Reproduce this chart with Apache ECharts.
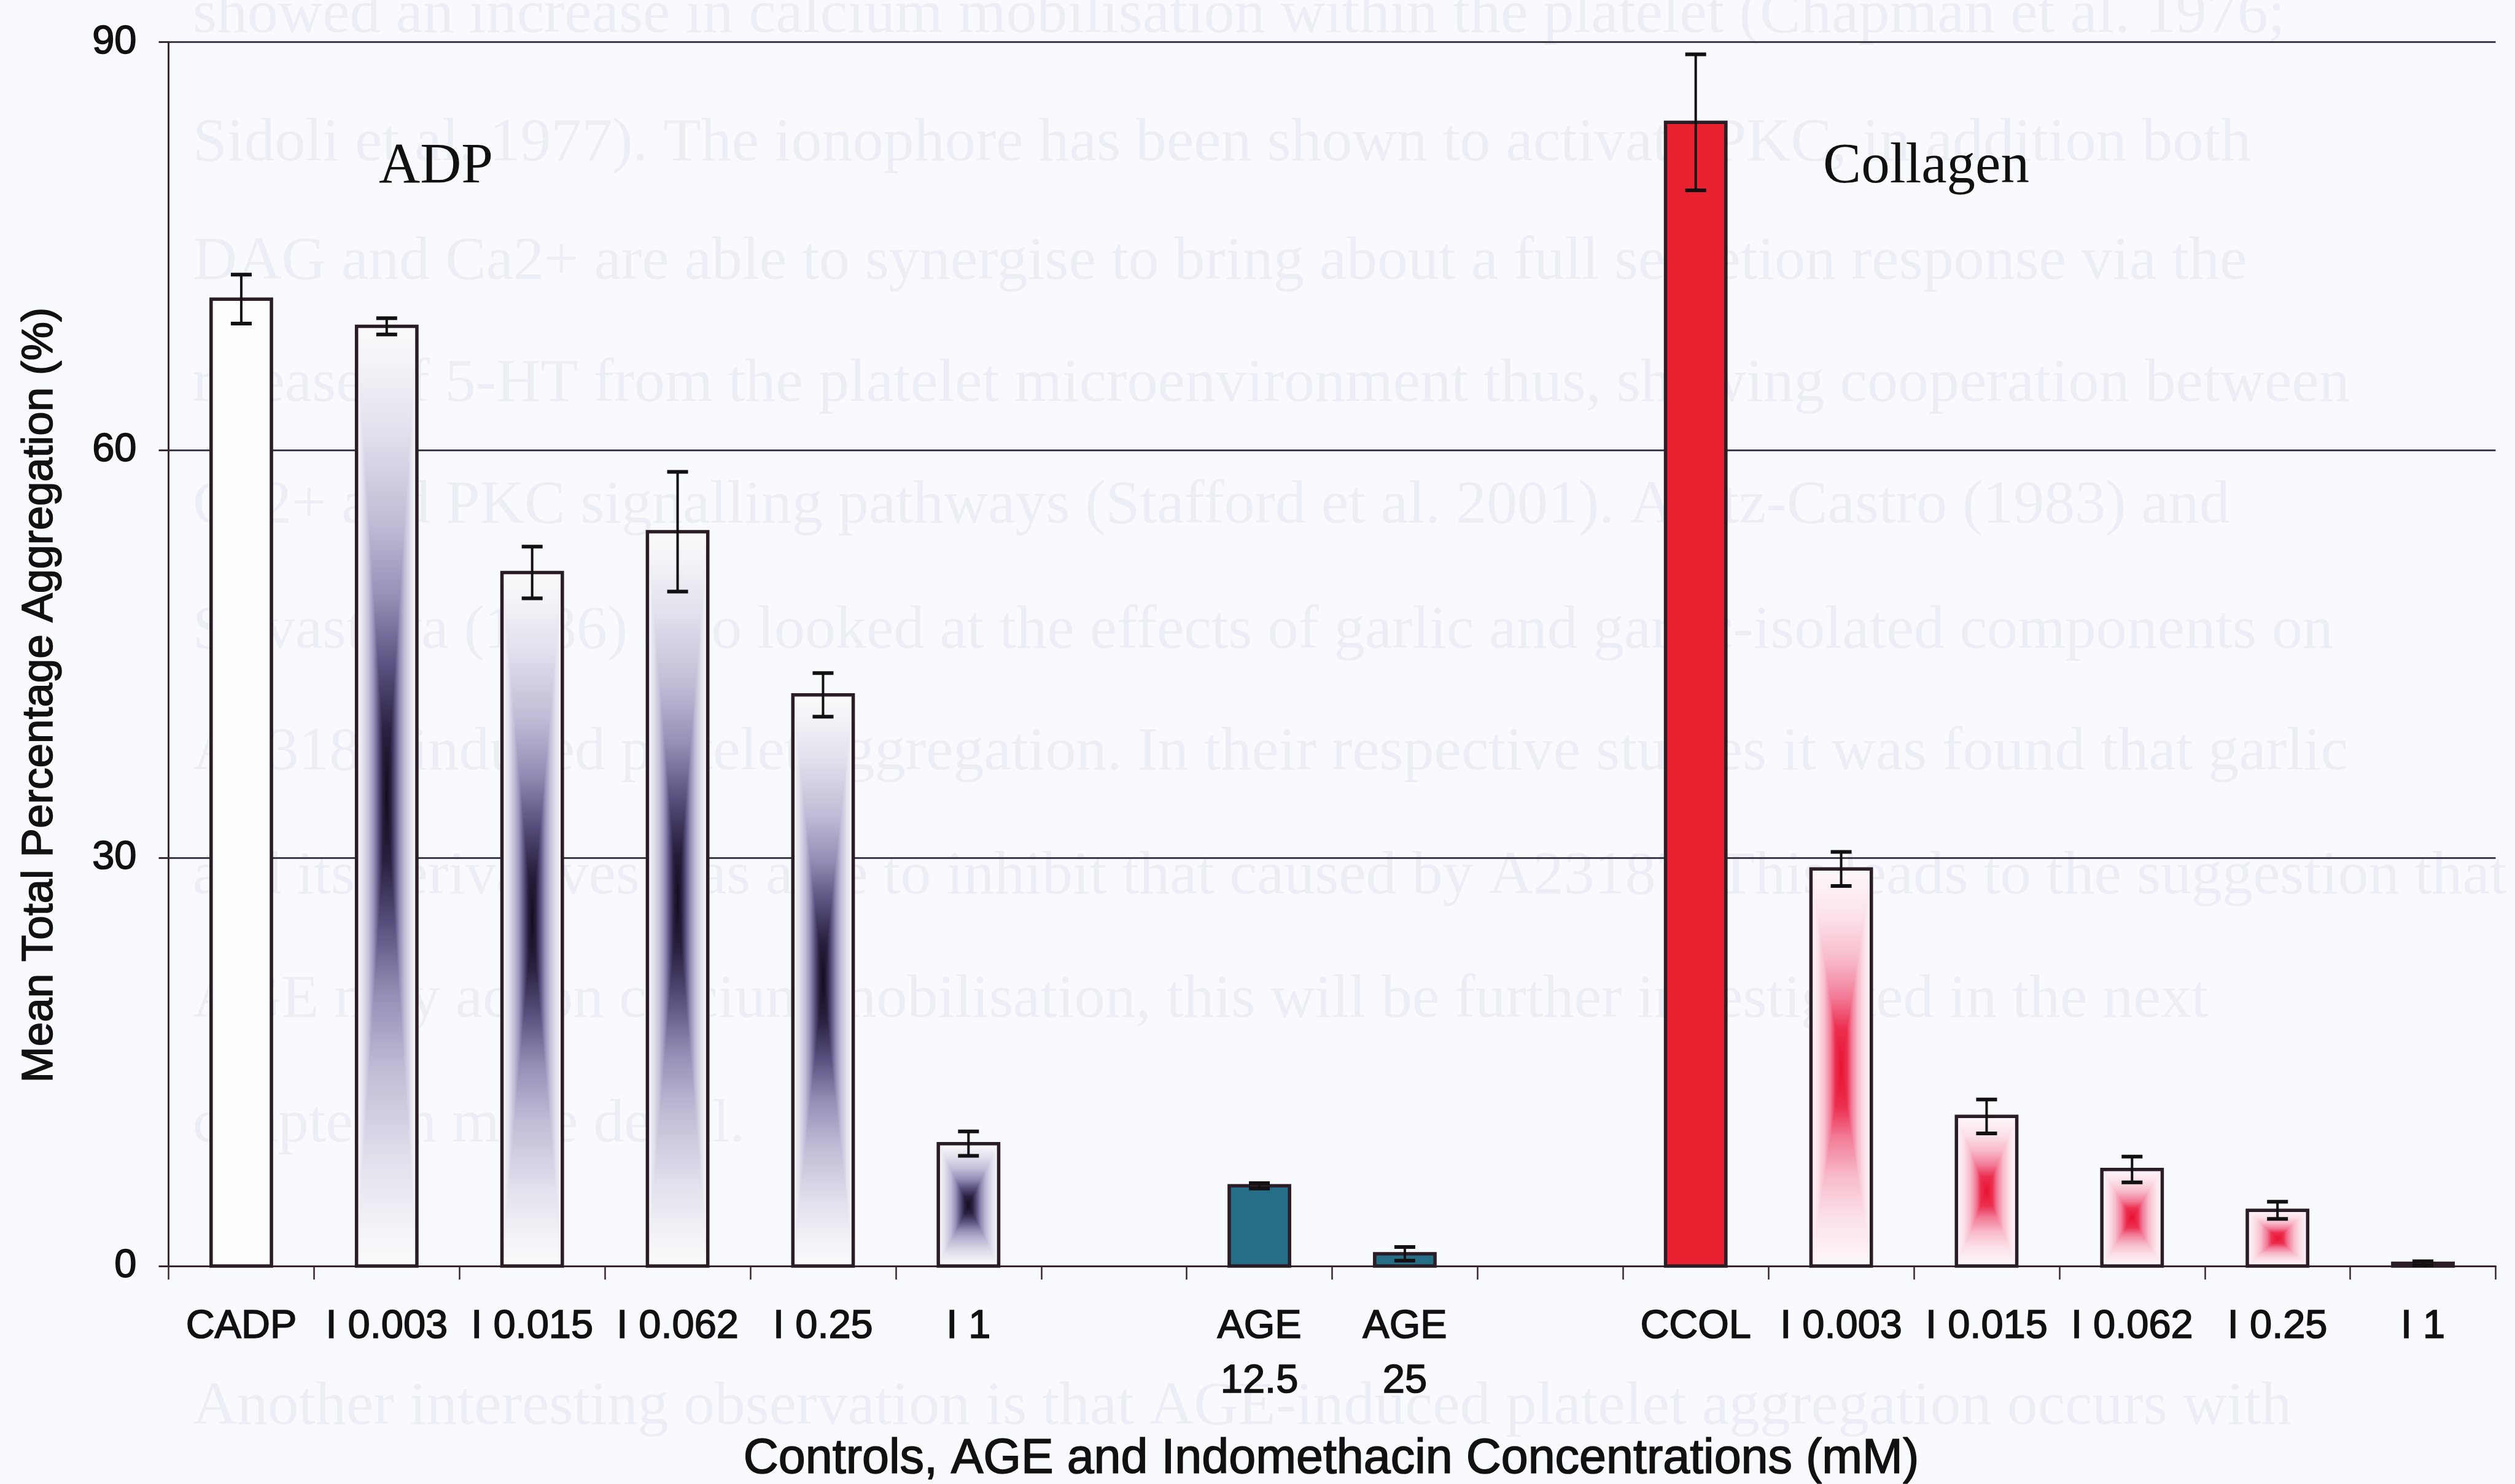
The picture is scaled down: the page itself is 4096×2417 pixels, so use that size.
<!DOCTYPE html>
<html>
<head>
<meta charset="utf-8">
<script src="https://cdn.jsdelivr.net/npm/echarts@6/dist/echarts.min.js"></script>
<style>
  html, body { margin: 0; padding: 0; background: #f9fafd; }
  #chart { width: 4096px; height: 2417px; }
</style>
</head>
<body>
<div id="chart"></div>
<script>
// ---------------- data ----------------
const categories = ['CADP', 'I 0.003', 'I 0.015', 'I 0.062', 'I 0.25', 'I 1', '',
  'AGE\n12.5', 'AGE\n25', '',
  'CCOL', 'I 0.003', 'I 0.015', 'I 0.062', 'I 0.25', 'I 1'];
const meanValues  = [71.1, 69.1, 51.0, 54.0, 42.0, 9.0, null, 5.9, 0.9, null, 84.1, 29.2, 11.0, 7.1, 4.1, 0.2];
const errorValues = [1.8, 0.6, 1.9, 4.4, 1.6, 0.9, null, 0.2, 0.5, null, 5.0, 1.25, 1.25, 0.95, 0.63, 0.15];
const fillKinds   = ['plain', 'adpGrad', 'adpGrad', 'adpGrad', 'adpGrad', 'adpGrad', '',
  'age', 'age', '',
  'col', 'colGrad', 'colGrad', 'colGrad', 'colGrad', 'colGrad'];
const yTickValues = [0, 30, 60, 90];
const groupNames = ['ADP', 'Collagen'];
const axisTitleX = 'Controls, AGE and Indomethacin Concentrations (mM)';
const axisTitleY = 'Mean Total Percentage Aggregation (%)';
// faint show-through text of the scanned page
const bleedLines = [
  'showed an increase in calcium mobilisation within the platelet (Chapman et al. 1976;',
  'Sidoli et al. 1977). The ionophore has been shown to activate PKC, in addition both',
  'DAG and Ca2+ are able to synergise to bring about a full secretion response via the',
  'release of 5-HT from the platelet microenvironment thus, showing cooperation between',
  'Ca2+ and PKC signalling pathways (Stafford et al. 2001). Apitz-Castro (1983) and',
  'Srivastava (1986) also looked at the effects of garlic and garlic-isolated components on',
  'A23187-induced platelet aggregation. In their respective studies it was found that garlic',
  'and its derivatives was able to inhibit that caused by A23187. This leads to the suggestion that',
  'AGE may act on calcium mobilisation, this will be further investigated in the next',
  'chapter in more detail.',
  'Another interesting observation is that AGE-induced platelet aggregation occurs with'
];

// ---------------- styles ----------------
const gradStops = {
  adpGrad: [[0, '#140a1c'], [0.14, '#2a2040'], [0.28, '#5a5280'], [0.42, '#948eb6'],
            [0.58, '#c0bcd6'], [0.78, '#e2e1ed'], [0.92, '#f3f3f8'], [1, '#fbfbfd']],
  colGrad: [[0, '#e8102e'], [0.2, '#ec2f50'], [0.35, '#f27a96'], [0.55, '#f8bccb'],
            [0.75, '#fbe0e8'], [1, '#fdf9fb']]
};
const solidFill = { plain: '#fdfdfe', age: '#266e87', col: '#ea2130' };
const borderColor = '#2a1d25';
const textColor = '#111111';
const sansFont = '"Liberation Sans", Arial, sans-serif';
const serifFont = '"Liberation Serif", "Times New Roman", serif';

function lg(x, y, x2, y2, stops) {
  return new echarts.graphic.LinearGradient(x, y, x2, y2,
    stops.map(s => ({ offset: s[0], color: s[1] })));
}

function renderBar(params, api) {
  const idx = api.value(0);
  const v = api.value(1);
  const e = api.value(2);
  const kind = fillKinds[idx];
  const top = api.coord([idx, v]);
  const base = api.coord([idx, 0]);
  const bw = api.size([1, 0])[0] * 0.415;
  const x0 = top[0] - bw / 2;
  const y0 = top[1];
  const h = base[1] - top[1];
  const cx = top[0];
  const cy = y0 + h / 2;
  const children = [];
  if (gradStops[kind]) {
    const st = gradStops[kind];
    const tri = (pts, g) => ({
      type: 'polygon', shape: { points: pts },
      style: { fill: g, stroke: g, lineWidth: 1 }
    });
    children.push(tri([[x0, y0], [x0 + bw, y0], [cx, cy]], lg(0, 1, 0, 0, st)));
    children.push(tri([[x0, y0 + h], [x0 + bw, y0 + h], [cx, cy]], lg(0, 0, 0, 1, st)));
    children.push(tri([[x0, y0], [x0, y0 + h], [cx, cy]], lg(1, 0, 0, 0, st)));
    children.push(tri([[x0 + bw, y0], [x0 + bw, y0 + h], [cx, cy]], lg(0, 0, 1, 0, st)));
  } else {
    children.push({ type: 'rect', shape: { x: x0, y: y0, width: bw, height: h },
      style: { fill: solidFill[kind] } });
  }
  children.push({ type: 'rect', shape: { x: x0, y: y0, width: bw, height: h },
    style: { fill: 'none', stroke: borderColor, lineWidth: 5.5 } });
  // error bar
  const hi = api.coord([idx, v + e])[1];
  const lo = api.coord([idx, Math.max(v - e, 0)])[1];
  const cap = 34;
  children.push({ type: 'line', shape: { x1: cx, y1: hi, x2: cx, y2: lo },
    style: { stroke: '#121012', lineWidth: 4 } });
  children.push({ type: 'line', shape: { x1: cx - cap / 2, y1: hi, x2: cx + cap / 2, y2: hi },
    style: { stroke: '#121012', lineWidth: 6 } });
  children.push({ type: 'line', shape: { x1: cx - cap / 2, y1: lo, x2: cx + cap / 2, y2: lo },
    style: { stroke: '#121012', lineWidth: 6 } });
  return { type: 'group', children };
}

const barData = [];
meanValues.forEach((v, i) => { if (v != null) barData.push([i, v, errorValues[i]]); });

const bleedY = [26, 235, 428, 627, 825, 1029, 1227, 1429, 1630, 1833, 2293];
const graphics = bleedLines.map((t, i) => ({
  type: 'text', z: -10, silent: true,
  x: 314, y: bleedY[i],
  style: { text: t, fill: '#eceef5', font: '100px ' + serifFont,
    textAlign: 'left', textVerticalAlign: 'middle' }
}));
const boldish = { stroke: textColor, lineWidth: 1.6 };
graphics.push({
  type: 'text', x: 710, y: 273,
  style: { text: groupNames[0], fill: textColor, font: '93px ' + serifFont,
    textAlign: 'center', textVerticalAlign: 'middle' }
});
graphics.push({
  type: 'text', x: 3137, y: 273,
  style: { text: groupNames[1], fill: textColor, font: '93px ' + serifFont,
    textAlign: 'center', textVerticalAlign: 'middle' }
});
graphics.push({
  type: 'text', x: 65, y: 1132, rotation: Math.PI / 2,
  style: Object.assign({ text: axisTitleY, fill: textColor, font: '71px ' + sansFont,
    textAlign: 'center', textVerticalAlign: 'middle' }, boldish)
});
graphics.push({
  type: 'text', x: 2168, y: 2377,
  style: Object.assign({ text: axisTitleX, fill: textColor, font: '79px ' + sansFont,
    textAlign: 'center', textVerticalAlign: 'middle' }, boldish)
});

const chart = echarts.init(document.getElementById('chart'), null, { renderer: 'canvas' });
chart.setOption({
  backgroundColor: '#f9fafd',
  animation: false,
  grid: { left: 274.5, right: 31.5, top: 68.6, bottom: 355, containLabel: false },
  xAxis: {
    type: 'category',
    data: categories,
    boundaryGap: true,
    axisLine: { show: true, lineStyle: { color: '#3a2830', width: 3 } },
    axisTick: { show: true, interval: 0, length: 22, lineStyle: { color: '#3a2830', width: 2.5 } },
    axisLabel: { interval: 0, fontSize: 65, color: textColor, margin: 55, lineHeight: 89,
      fontFamily: sansFont, textBorderColor: textColor, textBorderWidth: 1.6 },
    splitLine: { show: false }
  },
  yAxis: {
    type: 'value',
    min: yTickValues[0],
    max: yTickValues[yTickValues.length - 1],
    interval: 30,
    axisLine: { show: true, lineStyle: { color: '#3a2830', width: 3 } },
    axisTick: { show: true, length: 16, lineStyle: { color: '#3a2830', width: 3 } },
    axisLabel: { fontSize: 65, color: textColor, margin: 52,
      fontFamily: sansFont, textBorderColor: textColor, textBorderWidth: 1.6 },
    splitLine: { show: true, lineStyle: { color: '#3d3c4a', width: 3 } }
  },
  graphic: { elements: graphics },
  series: [{
    type: 'custom',
    renderItem: renderBar,
    encode: { x: 0, y: 1 },
    data: barData,
    z: 5,
    clip: false
  }]
});
</script>
</body>
</html>
